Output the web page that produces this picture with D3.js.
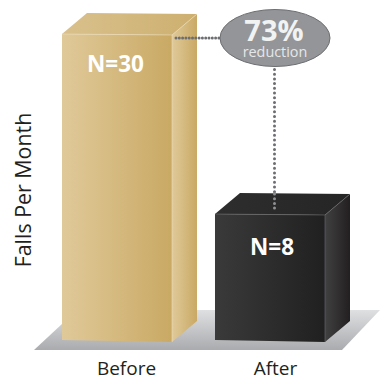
<!DOCTYPE html>
<html>
<head>
<meta charset="utf-8">
<style>
html,body{margin:0;padding:0;background:#fff}
svg{display:block}
text{font-family:"Open Sans","Noto Sans",sans-serif}
</style>
<script src="https://cdn.jsdelivr.net/npm/d3@7/dist/d3.min.js"></script>
</head>
<body>
<svg id="chart" width="380" height="377"></svg>
<script>
// Falls per month before and after the intervention
const categories = ["Before", "After"];
const falls = [30, 8];
const valueLabels = ["N=30", "N=8"];
const axisTitle = "Falls Per Month";
const reductionValue = "73%";
const reductionText = "reduction";

const svg = d3.select("#chart");
const defs = svg.append("defs");

const floorY = 340;
const depthX = 25, depthY = 21;

const x = d3.scaleBand().domain(categories).range([62, 325]).paddingInner(0.281).paddingOuter(0);
const y = d3.scaleLinear().domain([-7.4, 30]).range([floorY, 34]);
const labelX = d3.scalePoint().domain(categories).range([126, 275]);
const valueLabelX = d3.scalePoint().domain(categories).range([115.5, 272]);
const valueLabelY = d3.scaleLinear().domain([8, 30]).range([255, 72]);

function hGradient(id, from, to) {
  const g = defs.append("linearGradient").attr("id", id);
  g.append("stop").attr("offset", 0).attr("stop-color", from);
  g.append("stop").attr("offset", 1).attr("stop-color", to);
}
const vg = defs.append("linearGradient").attr("id", "floorFill")
  .attr("x1", 0).attr("x2", 0).attr("y1", 0).attr("y2", 1);
vg.append("stop").attr("offset", 0).attr("stop-color", "#dfe0e2");
vg.append("stop").attr("offset", 1).attr("stop-color", "#a9abae");

hGradient("goldFront", "#e0c999", "#c9a964");
hGradient("goldSide", "#e0c999", "#c9a964");
hGradient("goldTop", "#d9c08c", "#cdb070");
hGradient("darkFront", "#3a3a3a", "#212021");
hGradient("darkSide", "#414142", "#231f20");
hGradient("darkTop", "#2f2e2f", "#262526");

const palette = [
  {front: "goldFront", side: "goldSide", top: "goldTop", edge: "#ecdcb8"},
  {front: "darkFront", side: "darkSide", top: "darkTop", edge: "#6a6a6b"}
];

// Floor plane under the boxes
svg.append("polygon")
  .attr("points", [[34, 350], [342, 350], [380, 310], [77, 310]].join(" "))
  .attr("fill", "url(#floorFill)");

const poly = d3.line();

// One extruded box per category
const boxes = svg.selectAll("g.box")
  .data(categories.map((c, i) => ({c, v: falls[i], label: valueLabels[i], p: palette[i]})))
  .join("g").attr("class", "box");

boxes.each(function (d) {
  const g = d3.select(this);
  const l = x(d.c), r = l + x.bandwidth(), t = y(d.v), b = floorY;
  g.append("path").attr("fill", `url(#${d.p.side})`)
    .attr("d", poly([[r, t + 1], [r + depthX, t + 1 - depthY], [r + depthX, b + 2 - depthY], [r, b + 2]]) + "Z");
  g.append("path").attr("fill", `url(#${d.p.top})`)
    .attr("d", poly([[l, t], [l + depthX, t - depthY], [r + depthX, t + 1 - depthY], [r, t + 1]]) + "Z");
  g.append("path").attr("fill", `url(#${d.p.front})`)
    .attr("d", poly([[l, t], [r, t + 1], [r, b + 2], [l, b]]) + "Z");
  g.append("path").attr("fill", "none").attr("stroke", d.p.edge).attr("stroke-width", 0.6)
    .attr("d", poly([[l, t], [r, t + 1], [r + depthX, t + 1 - depthY]]) +
      poly([[r, t + 1], [r, b + 2]]));
  g.append("text").attr("x", valueLabelX(d.c)).attr("y", valueLabelY(d.v))
    .attr("text-anchor", "middle").attr("fill", "#fff")
    .attr("font-size", 22.5).attr("font-weight", 700).text(d.label);
});

// Dotted leaders from the box tops to the callout
const leaderColor = "#6d6e71";
const cx = 275, cy = 38, rx = 55, ry = 28.5;
const dotWidth = 3;
svg.append("line").attr("x1", x("Before") + x.bandwidth() + 4).attr("x2", cx - rx - 1)
  .attr("y1", cy).attr("y2", cy)
  .attr("stroke", leaderColor).attr("stroke-width", dotWidth)
  .attr("stroke-linecap", "round").attr("stroke-dasharray", "0 3.3");
svg.append("line").attr("x1", cx - 0.5).attr("x2", cx - 0.5)
  .attr("y1", cy + ry + 3).attr("y2", y(falls[1]) - 21)
  .attr("stroke", leaderColor).attr("stroke-width", dotWidth)
  .attr("stroke-linecap", "round").attr("stroke-dasharray", "0 4.7");
svg.append("line").attr("x1", cx - 0.5).attr("x2", cx - 0.5)
  .attr("y1", y(falls[1]) - 20).attr("y2", y(falls[1]) - 3)
  .attr("stroke", "#8f9092").attr("stroke-width", dotWidth)
  .attr("stroke-linecap", "round").attr("stroke-dasharray", "0 4.7");

// Reduction callout
svg.append("ellipse").attr("cx", cx).attr("cy", cy).attr("rx", rx).attr("ry", ry)
  .attr("fill", "#939598").attr("stroke", "#6d6e71").attr("stroke-width", 1);
svg.append("text").attr("x", cx - 1).attr("y", 41).attr("text-anchor", "middle")
  .attr("fill", "#f1f2f2").attr("font-size", 29).attr("font-weight", 700).text(reductionValue);
svg.append("text").attr("x", cx).attr("y", 56.5).attr("text-anchor", "middle")
  .attr("fill", "#e6e7e8").attr("font-size", 14.4).text(reductionText);

// Category axis
const axis = svg.append("g").attr("transform", "translate(0,361.5)")
  .call(d3.axisBottom(labelX).tickSize(0).tickPadding(0));
axis.select(".domain").remove();
axis.selectAll("text").attr("font-size", 19).attr("fill", "#231f20")
  .style("font-family", '"Open Sans","Noto Sans",sans-serif');

// Value axis title
svg.append("text").attr("transform", "translate(30.5,190) rotate(-90)")
  .attr("text-anchor", "middle").attr("fill", "#231f20").attr("font-size", 21.4).text(axisTitle);
</script>
</body>
</html>
